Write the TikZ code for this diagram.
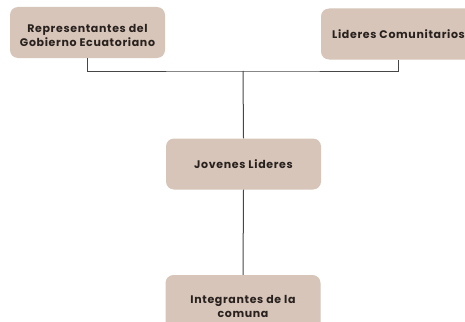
\documentclass[tikz,border=0pt]{standalone}
\usepackage{fontspec}
\setmainfont{Poppins}[BoldFont = * Bold, LetterSpace = 6]
\usetikzlibrary{positioning}

\definecolor{boxfill}{RGB}{214,197,184}
\definecolor{boxtext}{RGB}{40,33,30}
\definecolor{linegray}{RGB}{70,70,70}

\newcommand{\lowerstrut}{\rule{0pt}{14pt}}

\begin{document}
\begin{tikzpicture}[
  x = 1pt, y = -1pt,
  box/.style = {
    shape = rectangle,
    rounded corners = 8pt,
    fill = boxfill,
    text = boxtext,
    minimum width = 155pt,
    minimum height = 51pt,
    align = center,
    font = \bfseries\fontsize{11}{14}\selectfont,
  }
]
  \useasboundingbox (0, 0) rectangle (465, 321);

  \node[box] (rep) at (87.5, 32.5) {\lowerstrut Representantes del\\Gobierno Ecuatoriano};
  \node[box] (lid) at (398.5, 34) {Lideres Comunitarios};
  \node[box] (jov) at (243.5, 164) {Jovenes Lideres};
  \node[box, minimum height = 62pt] (int) at (243, 306) {Integrantes de la\\comuna};

  \coordinate (hub) at (243, 71);

  \begin{scope}[every path/.style = {draw = linegray, line width = 1pt}]
    \draw (rep.south) |- (hub) -| (lid.south);
    \draw (hub) -- (jov.north);
    \draw (jov.south) -- (int.north);
  \end{scope}
\end{tikzpicture}
\end{document}
